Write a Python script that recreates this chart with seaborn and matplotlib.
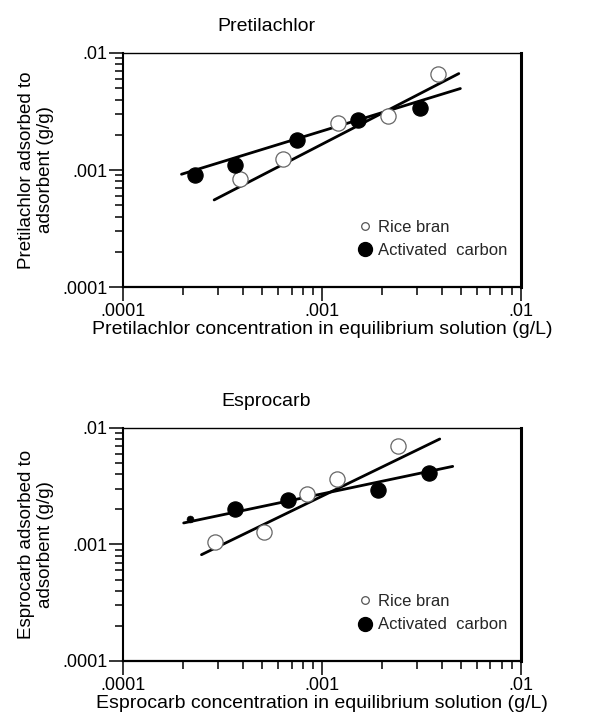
import matplotlib
matplotlib.use("Agg")
import matplotlib.pyplot as plt
import seaborn as sns
from matplotlib.lines import Line2D
from matplotlib.ticker import LogLocator, FuncFormatter, NullFormatter

# Pretilachlor isotherm (g/L vs g/g)
pret_rice_x = [3.86e-4, 6.37e-4, 1.20e-3, 2.14e-3, 3.80e-3]
pret_rice_y = [8.3e-4, 1.23e-3, 2.53e-3, 2.88e-3, 6.67e-3]
pret_carbon_x = [2.29e-4, 3.64e-4, 7.43e-4, 1.51e-3, 3.08e-3]
pret_carbon_y = [9.0e-4, 1.10e-3, 1.80e-3, 2.65e-3, 3.36e-3]
pret_rice_fit_x = [2.86e-4, 4.85e-3]
pret_rice_fit_y = [5.55e-4, 6.67e-3]
pret_carbon_fit_x = [1.96e-4, 4.94e-3]
pret_carbon_fit_y = [9.2e-4, 4.97e-3]

# Esprocarb isotherm
esp_rice_x = [2.88e-4, 5.09e-4, 8.36e-4, 1.19e-3, 2.41e-3]
esp_rice_y = [1.04e-3, 1.28e-3, 2.73e-3, 3.67e-3, 6.95e-3]
esp_carbon_x = [3.66e-4, 6.70e-4, 1.91e-3, 3.45e-3]
esp_carbon_y = [2.01e-3, 2.42e-3, 2.95e-3, 4.10e-3]
esp_carbon_small_x = [2.16e-4]
esp_carbon_small_y = [1.65e-3]
esp_rice_fit_x = [2.47e-4, 3.89e-3]
esp_rice_fit_y = [8.17e-4, 8.04e-3]
esp_carbon_fit_x = [2.01e-4, 4.52e-3]
esp_carbon_fit_y = [1.53e-3, 4.68e-3]

tick_text = {1e-4: ".0001", 1e-3: ".001", 1e-2: ".01"}

sns.set_theme(style="white")
plt.rcParams["font.family"] = ["Liberation Sans", "DejaVu Sans"]


def fmt(v, pos):
    for k, s in tick_text.items():
        if abs(v - k) / k < 1e-6:
            return s
    return ""


def draw_panel(ax, title, name, rice_x, rice_y, carb_x, carb_y,
               rice_fx, rice_fy, carb_fx, carb_fy, small=None):
    sns.lineplot(x=carb_fx, y=carb_fy, ax=ax, color="black", lw=2.0)
    sns.lineplot(x=rice_fx, y=rice_fy, ax=ax, color="black", lw=2.0)
    sns.scatterplot(x=rice_x, y=rice_y, ax=ax, s=120, facecolor="white",
                    edgecolor="#666666", linewidth=0.9, zorder=3)
    sns.scatterplot(x=carb_x, y=carb_y, ax=ax, s=120, color="black",
                    edgecolor="black", zorder=3)
    if small is not None:
        sns.scatterplot(x=small[0], y=small[1], ax=ax, s=25, color="black",
                        edgecolor="black", zorder=3)

    ax.set_xscale("log")
    ax.set_yscale("log")
    ax.set_xlim(1e-4, 1e-2)
    ax.set_ylim(1e-4, 1e-2)
    for axis in (ax.xaxis, ax.yaxis):
        axis.set_major_locator(LogLocator(base=10, numticks=10))
        axis.set_minor_locator(LogLocator(base=10, subs=range(2, 10), numticks=10))
        axis.set_major_formatter(FuncFormatter(fmt))
        axis.set_minor_formatter(NullFormatter())
    ax.tick_params(which="major", direction="out", length=10, width=1.1,
                   labelsize=13, pad=1.5, colors="black")
    ax.tick_params(which="minor", direction="out", length=5.5, width=1.1,
                   colors="black")
    ax.tick_params(bottom=True, left=True, top=False, right=False, which="both")

    for side, lw in [("top", 1.0), ("right", 2.2), ("left", 1.5), ("bottom", 1.6)]:
        ax.spines[side].set_visible(True)
        ax.spines[side].set_linewidth(lw)
        ax.spines[side].set_color("black")

    ax.set_title(title, fontsize=14, pad=16, color="black", x=0.36)
    ax.set_xlabel(f"{name} concentration in equilibrium solution (g/L)",
                  fontsize=14, labelpad=1, color="black")
    ax.set_ylabel(f"{name} adsorbed to\nadsorbent (g/g)", fontsize=13.5,
                  labelpad=6, color="black", linespacing=1.1)

    handles = [
        Line2D([], [], marker="o", ls="none", mfc="white", mec="#555555",
               mew=0.9, ms=5.5),
        Line2D([], [], marker="o", ls="none", mfc="black", mec="black", ms=10),
    ]
    ax.legend(handles, ["Rice bran", "Activated  carbon"], loc="center left",
              bbox_to_anchor=(0.565, 0.205), frameon=False, fontsize=12,
              handletextpad=0.2, labelspacing=0.5, handlelength=1.2,
              borderaxespad=0)


fig = plt.figure(figsize=(5.89, 7.25), dpi=100)
ax1 = fig.add_axes([0.2094, 0.6041, 0.6757, 0.3228])
ax2 = fig.add_axes([0.2094, 0.0883, 0.6757, 0.3214])

draw_panel(ax1, "Pretilachlor", "Pretilachlor", pret_rice_x, pret_rice_y,
           pret_carbon_x, pret_carbon_y, pret_rice_fit_x, pret_rice_fit_y,
           pret_carbon_fit_x, pret_carbon_fit_y)
draw_panel(ax2, "Esprocarb", "Esprocarb", esp_rice_x, esp_rice_y,
           esp_carbon_x, esp_carbon_y, esp_rice_fit_x, esp_rice_fit_y,
           esp_carbon_fit_x, esp_carbon_fit_y,
           small=(esp_carbon_small_x, esp_carbon_small_y))

fig.savefig("out.png", dpi=100, facecolor="white")
